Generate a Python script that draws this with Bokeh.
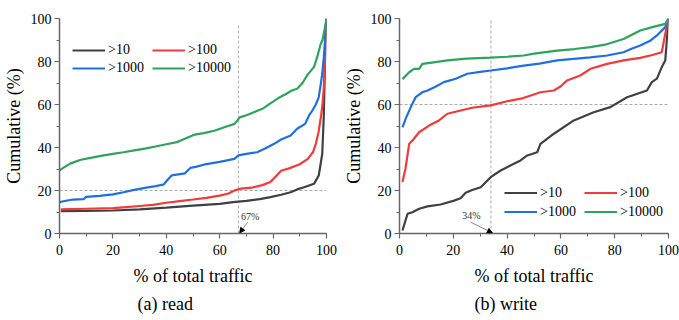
from bokeh.plotting import figure
from bokeh.layouts import row
from bokeh.models import Label, Arrow, NormalHead, SingleIntervalTicker, Title
from bokeh.embed import file_html
from bokeh.resources import INLINE

# ---------------- data: read ----------------
read_x_10 = [0.5, 10, 20, 30, 40, 50, 60, 65, 70, 75, 79, 83, 86.6, 89, 91.6, 95.3, 97.1, 98.4, 99, 99.6, 100]
read_y_10 = [10.4, 10.5, 10.7, 11.2, 12.0, 13.0, 13.8, 14.6, 15.2, 16.0, 16.9, 18.0, 19.2, 20.5, 21.5, 23.1, 27.0, 37.0, 55.0, 90.0, 100]

read_x_100 = [0.5, 10, 20, 25, 30, 35, 40, 45, 50, 55, 60, 63, 66, 68, 72, 76, 79, 81, 83, 86, 90, 93, 95, 96, 97, 98, 98.5, 99, 99.6, 100]
read_y_100 = [11.2, 11.5, 11.8, 12.3, 12.8, 13.3, 14.3, 15.1, 15.8, 16.6, 17.6, 18.5, 20.2, 20.9, 21.3, 22.5, 24.0, 26.5, 29.2, 30.3, 32.2, 34.7, 38.0, 41.7, 47.0, 55.0, 60.0, 68.0, 85.0, 100]

read_x_1000 = [0, 2, 5, 9, 10, 15, 20, 24, 28, 32, 36, 39, 40.5, 42, 47, 49, 51, 55, 60, 65.5, 67, 70, 74, 77, 80.4, 83, 86.6, 89, 92, 93.5, 94.7, 96, 97.1, 97.8, 98.4, 99, 99.6, 100]
read_y_1000 = [14.6, 15.1, 15.8, 16.0, 17.0, 17.5, 18.2, 19.2, 20.3, 21.2, 22.0, 22.8, 25.0, 27.0, 28.0, 30.5, 31.0, 32.3, 33.3, 34.7, 36.3, 37.0, 37.8, 39.5, 41.7, 43.7, 45.6, 48.7, 51.0, 55.0, 57.2, 60.0, 63.4, 69.0, 74.3, 82.0, 92.9, 100]

read_x_10000 = [0, 2, 4, 5.5, 8, 11.6, 16, 20, 24, 28, 32, 36.4, 40, 44, 46.3, 50.7, 54, 58, 62, 65.6, 67.5, 70, 73, 76, 79, 82, 85, 87, 89, 91, 93, 95.3, 96.5, 97.8, 98.5, 99.3, 100]
read_y_10000 = [29.4, 31.0, 32.5, 33.2, 34.3, 35.2, 36.2, 37.0, 37.8, 38.7, 39.5, 40.6, 41.5, 42.5, 43.7, 46.0, 46.7, 47.8, 49.5, 51.0, 54.0, 55.0, 56.5, 58.0, 60.5, 63.0, 65.0, 66.5, 67.3, 70.0, 74.0, 77.4, 82.0, 88.0, 90.0, 95.0, 100]

# ---------------- data: write ----------------
write_x_10 = [1.1, 3, 4.8, 7.3, 10.4, 15.3, 20.3, 22.7, 24.6, 27, 30.2, 33.9, 37.6, 42.5, 45, 47.5, 51.2, 52.4, 57.4, 64.8, 72.2, 78.4, 84.6, 92, 93.8, 95.7, 97.5, 98.8, 100]
write_y_10 = [1.4, 9.2, 9.9, 11.5, 12.6, 13.5, 15.3, 16.4, 18.9, 20.2, 21.5, 26.2, 29.3, 32.4, 34.0, 36.3, 37.8, 41.7, 46.4, 52.6, 56.4, 58.8, 63.4, 66.5, 70.4, 72.0, 77.4, 80.5, 100]

write_x_100 = [1.1, 2.2, 3.6, 5, 7.3, 11, 14.7, 17.8, 22, 27, 33.9, 40, 46, 52.4, 57.4, 60, 62.3, 67.2, 71, 77.2, 83.3, 89.5, 94, 97.5, 98.8, 100]
write_y_100 = [23.9, 30.0, 41.7, 43.5, 47.1, 50.2, 52.6, 55.7, 57.0, 58.5, 59.6, 61.5, 63.0, 65.7, 66.5, 68.5, 71.2, 73.5, 76.6, 78.9, 80.5, 81.7, 83.0, 84.3, 92.9, 100]

write_x_1000 = [1.1, 2.5, 4.2, 6, 8.5, 10.4, 13, 16.5, 20.9, 25.2, 30, 33.9, 40, 46.2, 52, 58.6, 64.8, 71, 77.2, 80, 83.3, 86, 89.5, 93, 95.7, 98.8, 100]
write_y_1000 = [49.4, 54.0, 58.8, 63.4, 65.7, 66.5, 68.0, 70.4, 72.0, 74.3, 75.2, 75.8, 76.8, 78.1, 79.0, 80.5, 81.2, 81.9, 82.8, 83.5, 84.3, 85.8, 87.4, 89.5, 92.1, 96.0, 100]

write_x_10000 = [1.1, 3.6, 5.4, 7.3, 8.5, 12, 17.8, 25, 33.9, 40, 46.2, 50, 58.6, 65, 71, 77, 83.3, 89.5, 94, 98.8, 100]
write_y_10000 = [71.8, 75.0, 76.6, 76.6, 78.9, 79.5, 80.5, 81.3, 81.8, 82.2, 82.8, 83.7, 85.1, 85.8, 86.7, 88.0, 90.5, 94.4, 96.0, 97.5, 100]

series_labels = [">10", ">100", ">1000", ">10000"]
series_colors = ["#404040", "#ee3b3b", "#1f6fe0", "#2ea35d"]

read_marker = {"x": 67, "y": 20, "top": 97.5, "text": "67%"}
write_marker = {"x": 34, "y": 60, "top": 99, "text": "34%"}

FONT = "Liberation Serif"


def make_fig(width, left, right, xs, ys, marker, subtitle, sub_offset,
             legend_loc, row_h, note_x, note_y, note_align, arrow_start):
    p = figure(width=width, height=320, x_range=(0, 100), y_range=(0, 100),
               min_border_left=left, min_border_right=right,
               min_border_top=18, min_border_bottom=87,
               toolbar_location=None, output_backend="svg")
    p.outline_line_color = None
    p.xgrid.visible = False
    p.ygrid.visible = False

    p.xaxis.ticker = SingleIntervalTicker(interval=20, num_minor_ticks=2)
    p.yaxis.ticker = SingleIntervalTicker(interval=20, num_minor_ticks=2)
    p.axis.axis_line_color = "#666666"
    p.axis.axis_line_width = 1.5
    p.axis.major_tick_line_color = "#666666"
    p.axis.minor_tick_line_color = "#666666"
    p.axis.major_tick_line_width = 1.2
    p.axis.major_tick_in = 0
    p.axis.major_tick_out = 5
    p.axis.minor_tick_in = 0
    p.axis.minor_tick_out = 3
    p.axis.major_label_text_font = FONT
    p.axis.major_label_text_font_size = "14px"
    p.axis.major_label_text_color = "black"
    p.axis.axis_label_text_font = FONT
    p.axis.axis_label_text_font_size = "18px"
    p.axis.axis_label_text_font_style = "normal"
    p.axis.axis_label_text_color = "black"
    p.xaxis.axis_label = "% of total traffic"
    p.yaxis.axis_label = "Cumulative (%)"
    p.xaxis.major_label_standoff = 6
    p.xaxis.axis_label_standoff = 8
    p.yaxis.major_label_standoff = 3
    p.yaxis.axis_label_standoff = 4

    # reference dashed lines
    p.segment(x0=[marker["x"], 0], y0=[0, marker["y"]],
              x1=[marker["x"], 100], y1=[marker["top"], marker["y"]],
              line_color="#aaaaaa", line_dash="3 2", line_width=1)

    for x, y, lab, col in zip(xs, ys, series_labels, series_colors):
        p.line(x, y, line_color=col, line_width=2.2, legend_label=lab)

    p.add_layout(Arrow(end=NormalHead(size=5, fill_color="black", line_color="black"),
                       x_start=arrow_start[0], y_start=arrow_start[1],
                       x_end=marker["x"] + 0.5, y_end=0.3,
                       line_color="#555555", line_width=0.7))
    p.add_layout(Label(x=note_x, y=note_y, text=marker["text"], text_font=FONT,
                       text_font_size="10px", text_align=note_align,
                       text_baseline="middle", text_color="#333333"))

    p.add_layout(Title(text=subtitle, align="left", offset=sub_offset,
                       text_font=FONT, text_font_size="18px",
                       text_font_style="normal", text_color="black",
                       standoff=6), "below")

    lg = p.legend[0]
    lg.orientation = "horizontal"
    lg.ncols = 2
    lg.location = legend_loc
    lg.label_text_font = FONT
    lg.label_text_font_size = "14px"
    lg.label_text_color = "black"
    lg.glyph_width = 33
    lg.glyph_height = row_h
    lg.label_height = row_h
    lg.label_width = 44
    lg.label_standoff = 3
    lg.spacing = 0
    lg.padding = 0
    lg.margin = 0
    lg.border_line_color = None
    lg.background_fill_alpha = 0
    return p


p1 = make_fig(340, 57, 14,
              [read_x_10, read_x_100, read_x_1000, read_x_10000],
              [read_y_10, read_y_100, read_y_1000, read_y_10000],
              read_marker, "(a)  read", 78, (13, 156), 18, 68, 7.8, "left", (70.5, 5.3))
p2 = make_fig(339, 59, 11,
              [write_x_10, write_x_100, write_x_1000, write_x_10000],
              [write_y_10, write_y_100, write_y_1000, write_y_10000],
              write_marker, "(b)  write", 75, (105, 12), 19, 26.7, 8.6, "center", (26.4, 5.3))

layout = row(p1, p2)
open("out.html", "w").write(file_html(layout, INLINE))
